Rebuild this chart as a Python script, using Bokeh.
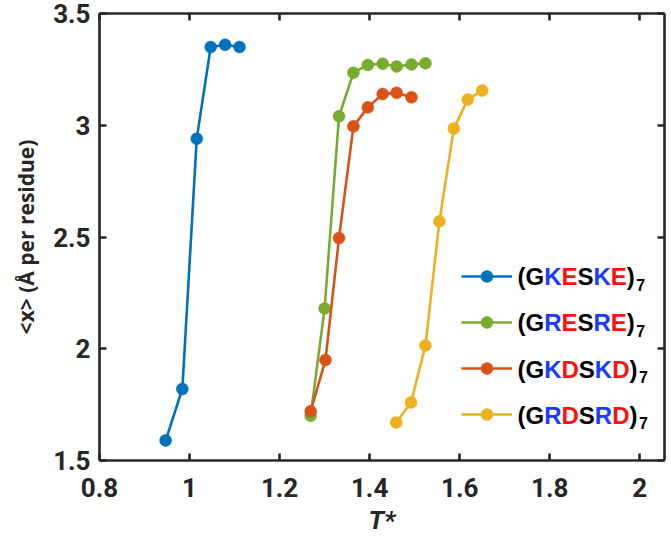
from bokeh.plotting import figure
from bokeh.models import (Range1d, FixedTicker, LinearAxis, Legend, LegendItem, Label)
from bokeh.core.properties import value
from bokeh.embed import file_html
from bokeh.resources import INLINE

# ---------------- data ----------------
t_gkeske = [0.947, 0.984, 1.016, 1.047, 1.079, 1.111]
x_gkeske = [1.59, 1.82, 2.94, 3.35, 3.36, 3.35]

t_gresre = [1.269, 1.300, 1.332, 1.364, 1.396, 1.429, 1.460, 1.493, 1.524]
x_gresre = [1.70, 2.18, 3.04, 3.235, 3.27, 3.275, 3.263, 3.272, 3.277]

t_gkdskd = [1.269, 1.302, 1.332, 1.364, 1.396, 1.429, 1.460, 1.493]
x_gkdskd = [1.72, 1.95, 2.495, 2.995, 3.08, 3.14, 3.145, 3.125]

t_grdsrd = [1.459, 1.492, 1.524, 1.555, 1.587, 1.618, 1.650]
x_grdsrd = [1.67, 1.76, 2.015, 2.57, 2.985, 3.115, 3.155]

x_ticks = [0.8, 1.0, 1.2, 1.4, 1.6, 1.8, 2.0]
x_tick_labels = ["0.8", "1", "1.2", "1.4", "1.6", "1.8", "2"]
y_ticks = [1.5, 2.0, 2.5, 3.0, 3.5]
y_tick_labels = ["1.5", "2", "2.5", "3", "3.5"]

# legend names split into coloured runs: (text, colour key)
legend_runs = [
    [("(G", "k"), ("K", "b"), ("E", "r"), ("S", "k"), ("K", "b"), ("E", "r"), (")", "k")],
    [("(G", "k"), ("R", "b"), ("E", "r"), ("S", "k"), ("R", "b"), ("E", "r"), (")", "k")],
    [("(G", "k"), ("K", "b"), ("D", "r"), ("S", "k"), ("K", "b"), ("D", "r"), (")", "k")],
    [("(G", "k"), ("R", "b"), ("D", "r"), ("S", "k"), ("R", "b"), ("D", "r"), (")", "k")],
]
legend_sub = "7"

series_colors = ["#0072BD", "#77AC30", "#D95319", "#EDB120"]
text_colors = {"k": "#000000", "b": "#1a3cff", "r": "#ff1010"}
axis_color = "#262626"

# ---------------- figure ----------------
p = figure(width=671, height=539, output_backend="svg", toolbar_location=None,
           x_range=Range1d(0.8, 2.055), y_range=Range1d(1.5, 3.5),
           min_border_left=99, min_border_right=7, min_border_top=13, min_border_bottom=79)
p.grid.visible = False
p.outline_line_color = None
p.background_fill_color = "white"

renderers = []
for t, x, c in zip([t_gkeske, t_gresre, t_gkdskd, t_grdsrd],
                   [x_gkeske, x_gresre, x_gkdskd, x_grdsrd], series_colors):
    lr = p.line(t, x, line_color=c, line_width=2.6)
    sr = p.scatter(t, x, size=12, fill_color=c, line_color=c, line_width=0.5)
    renderers.append((lr, sr))

def style_axis(ax, ticks, labels, show_labels=True):
    ax.ticker = FixedTicker(ticks=ticks)
    ax.major_label_overrides = {t: l for t, l in zip(ticks, labels)}
    ax.axis_line_color = axis_color
    ax.axis_line_width = 2.6
    ax.major_tick_line_color = axis_color
    ax.major_tick_line_width = 2.6
    ax.major_tick_in = 7
    ax.major_tick_out = 0
    ax.minor_tick_line_color = None
    ax.major_label_text_font = "Roboto"
    ax.major_label_text_font_style = "bold"
    ax.major_label_text_color = axis_color
    ax.major_label_text_font_size = "26px"
    if not show_labels:
        ax.major_label_text_font_size = "0px"
        ax.major_label_text_alpha = 0
        ax.major_label_standoff = 0

xa = p.xaxis[0]
ya = p.yaxis[0]
style_axis(xa, x_ticks, x_tick_labels)
style_axis(ya, y_ticks, y_tick_labels)
xa.major_label_standoff = 17
ya.major_label_standoff = 9

xa.axis_label = "T*"
xa.axis_label_text_font = "Roboto"
xa.axis_label_text_font_style = "bold italic"
xa.axis_label_text_font_size = "26px"
xa.axis_label_text_color = axis_color
xa.axis_label_standoff = 5

ya.axis_label = "<x> (Å per residue)"
ya.axis_label_text_font = "Open Sans"
ya.axis_label_text_font_style = "bold"
ya.axis_label_text_font_size = "21px"
ya.axis_label_text_color = axis_color
ya.axis_label_standoff = 10

top = LinearAxis()
right = LinearAxis()
style_axis(top, x_ticks, x_tick_labels, show_labels=False)
style_axis(right, y_ticks, y_tick_labels, show_labels=False)
p.add_layout(top, "above")
p.add_layout(right, "right")

# ---------------- legend ----------------
items = [LegendItem(label=value(" "), renderers=[lr, sr]) for lr, sr in renderers]
leg = Legend(items=items, location=(362, 31), glyph_width=51, glyph_height=30,
             label_height=30, label_width=0, label_standoff=0, label_text_font_size="1px",
             spacing=16, padding=0, margin=0, border_line_alpha=0, background_fill_alpha=0)
p.add_layout(leg, "center")

# Arial/Liberation Sans Bold advance widths (per 1000 em)
adv = {"(": 333, ")": 333, "G": 778, "K": 722, "E": 667, "S": 667, "R": 722, "D": 722}
fs = 24
row_y0 = 184  # from frame bottom, first row
row_dy = 46.3
x0 = 418
for i, runs in enumerate(legend_runs):
    y = row_y0 - i * row_dy
    x = x0
    for txt, ck in runs:
        p.add_layout(Label(x=x, y=y, x_units="screen", y_units="screen", text=txt,
                           text_font="Liberation Sans", text_font_style="bold",
                           text_font_size=f"{fs}px", text_color=text_colors[ck],
                           text_baseline="middle", text_align="left"))
        x += sum(adv[ch] for ch in txt) * fs / 1000.0
    p.add_layout(Label(x=x + 1.5, y=y - 8, x_units="screen", y_units="screen", text=legend_sub,
                       text_font="Liberation Sans", text_font_style="bold",
                       text_font_size="16px", text_color="#000000",
                       text_baseline="middle", text_align="left"))

open("out.html", "w").write(file_html(p, INLINE))
